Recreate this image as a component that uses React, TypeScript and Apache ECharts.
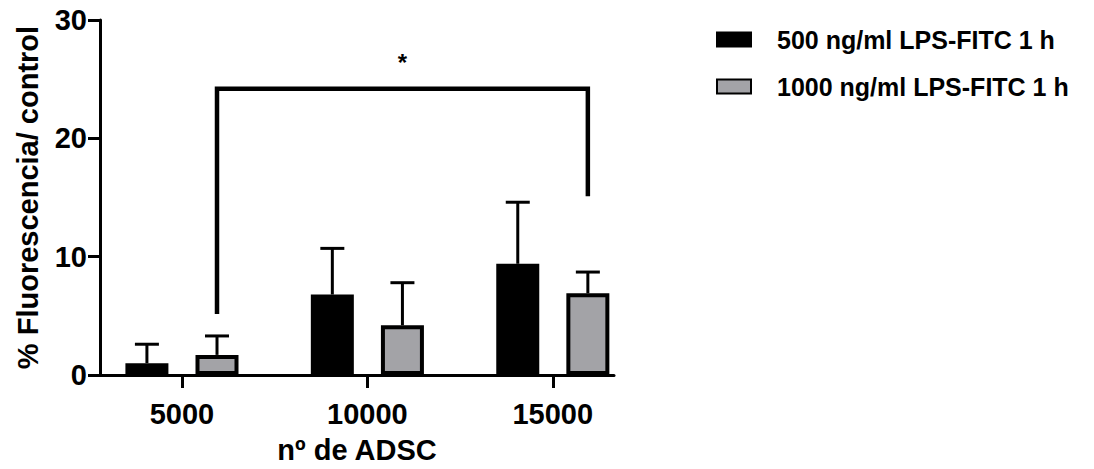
import React, { useEffect, useRef } from "react";
import * as echarts from "echarts";

// ---- data ----
const categories = ["5000", "10000", "15000"];
const seriesNames = ["500 ng/ml LPS-FITC 1 h", "1000 ng/ml LPS-FITC 1 h"];
const mean500 = [1.0, 6.8, 9.4];
const upper500 = [2.6, 10.7, 14.6];
const mean1000 = [1.7, 4.2, 6.9];
const upper1000 = [3.3, 7.8, 8.7];
const yTicks = [0, 10, 20, 30];
const bracketFrom = 0;
const bracketTo = 2;
const bracketLevels = [5.15, 24.2, 15.1];
const starLevel = 26.4;
const starText = "*";
const xAxisName = "nº de ADSC";
const yAxisName = "% Fluorescencia/ control";

// ---- layout ----
const OFFSET = 0.189; // bar offset from category centre (in category units)
const X_MIN = -0.442;
const X_MAX = 2.33;
const CAP = 12;
const FONT = "'Liberation Sans', Arial, Helvetica, sans-serif";
const GRAY = "#a3a3a7";
const AXIS_FS = 29;
const LEGEND_FS = 25;

export default function App() {
  const ref = useRef<HTMLDivElement>(null);
  useEffect(() => {
    if (!ref.current) return;
    const chart = echarts.init(ref.current, null, { renderer: "svg" });
    const catIdx = categories.map((_, i) => i);
    const errData = [
      ...catIdx.map((i) => [i - OFFSET, mean500[i], upper500[i]]),
      ...catIdx.map((i) => [i + OFFSET, mean1000[i], upper1000[i]]),
    ];
    const bx0 = bracketFrom + OFFSET;
    const bx1 = bracketTo + OFFSET;
    const axisText = { fontSize: AXIS_FS, fontWeight: "bold", color: "#000", fontFamily: FONT };
    chart.setOption({
      animation: false,
      textStyle: { fontFamily: FONT },
      grid: { left: 100, top: 20, width: 514, height: 355 },
      legend: {
        data: seriesNames,
        orient: "vertical",
        left: 711,
        top: 22,
        itemWidth: 34,
        itemHeight: 14,
        itemGap: 22,
        icon: "rect",
        textStyle: {
          fontSize: LEGEND_FS,
          fontWeight: "bold",
          color: "#000",
          fontFamily: FONT,
          padding: [0, 0, 0, 21],
        },
      },
      xAxis: {
        type: "value",
        min: X_MIN,
        max: X_MAX,
        splitLine: { show: false },
        axisLine: { show: true, onZero: true, lineStyle: { color: "#000", width: 3 } },
        axisTick: {
          show: true,
          length: 13,
          customValues: catIdx,
          lineStyle: { color: "#000", width: 3 },
        },
        axisLabel: {
          customValues: catIdx,
          formatter: (v: number) => categories[Math.round(v)] ?? "",
          margin: 24,
          ...axisText,
        },
        name: xAxisName,
        nameLocation: "middle",
        nameGap: 60,
        nameTextStyle: axisText,
      },
      yAxis: {
        type: "value",
        min: yTicks[0],
        max: yTicks[yTicks.length - 1],
        interval: yTicks[1] - yTicks[0],
        splitLine: { show: false },
        axisLine: { show: true, onZero: false, lineStyle: { color: "#000", width: 3 } },
        axisTick: { show: true, length: 12, lineStyle: { color: "#000", width: 3 } },
        axisLabel: { margin: 13, ...axisText },
        name: yAxisName,
        nameLocation: "middle",
        nameGap: 58,
        nameTextStyle: axisText,
      },
      series: [
        {
          type: "bar",
          name: seriesNames[0],
          data: catIdx.map((i) => [i - OFFSET, mean500[i]]),
          barWidth: 43,
          barGap: "-100%",
          itemStyle: { color: "#000", borderColor: "#000", borderWidth: 4 },
        },
        {
          type: "bar",
          name: seriesNames[1],
          data: catIdx.map((i) => [i + OFFSET, mean1000[i]]),
          barWidth: 43,
          barGap: "-100%",
          itemStyle: { color: GRAY, borderColor: "#000", borderWidth: 4 },
        },
        {
          type: "custom",
          name: "err",
          data: errData,
          encode: { x: 0, y: [1, 2] },
          z: 3,
          renderItem: (_p: any, api: any) => {
            const x = api.value(0);
            const b = api.coord([x, api.value(1)]);
            const t = api.coord([x, api.value(2)]);
            return {
              type: "group",
              children: [
                {
                  type: "line",
                  shape: { x1: b[0], y1: b[1], x2: t[0], y2: t[1] },
                  style: { stroke: "#000", lineWidth: 3 },
                },
                {
                  type: "line",
                  shape: { x1: t[0] - CAP, y1: t[1], x2: t[0] + CAP, y2: t[1] },
                  style: { stroke: "#000", lineWidth: 3 },
                },
              ],
            };
          },
        },
        {
          type: "line",
          name: "bracket",
          data: [
            [bx0, bracketLevels[0]],
            [bx0, bracketLevels[1]],
            [bx1, bracketLevels[1]],
            [bx1, bracketLevels[2]],
          ],
          symbol: "none",
          silent: true,
          lineStyle: { color: "#000", width: 4.5, join: "miter", cap: "butt" },
        },
        {
          type: "custom",
          name: "star",
          data: [[(bx0 + bx1) / 2, starLevel]],
          encode: { x: 0, y: 1 },
          renderItem: (_p: any, api: any) => {
            const p = api.coord([api.value(0), api.value(1)]);
            return {
              type: "text",
              x: p[0],
              y: p[1],
              style: {
                text: starText,
                fontSize: 24,
                fontWeight: "bold",
                fontFamily: FONT,
                fill: "#000",
                align: "center",
                verticalAlign: "middle",
              },
            };
          },
        },
      ],
    });
    return () => chart.dispose();
  }, []);
  return (
    <div
      ref={ref}
      style={{ position: "fixed", left: 0, top: 0, width: 1094, height: 469, background: "#fff" }}
    />
  );
}
